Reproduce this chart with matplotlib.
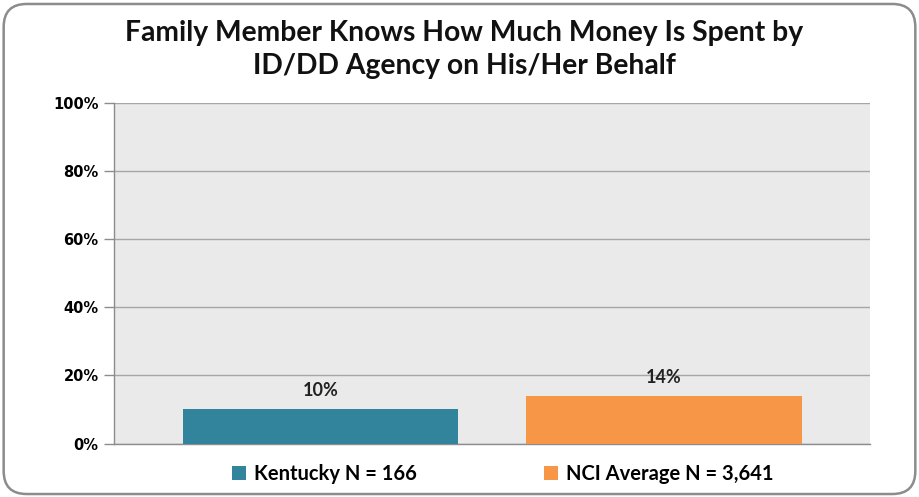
import matplotlib.pyplot as plt
from matplotlib.patches import FancyBboxPatch, Patch

# survey results
series = ["Kentucky N = 166", "NCI Average N = 3,641"]
values = [10, 14]
colors = ["#31849B", "#F79646"]
yticks = [0, 20, 40, 60, 80, 100]

fig = plt.figure(figsize=(9.19, 4.97), dpi=100)

# rounded chart border
border = FancyBboxPatch((0.004, 0.006), 0.992, 0.986, boxstyle="round,pad=0,rounding_size=0.025",
                        transform=fig.transFigure, facecolor="none", edgecolor="#8C8C8C",
                        linewidth=1.8, mutation_aspect=919 / 497, zorder=5)
fig.patches.append(border)

ax = fig.add_axes([0.124, 0.1076, 0.8227, 0.6852])
ax.set_facecolor("#EAEAEA")

xpos = [0.273, 0.7275]
bars = ax.bar(xpos, values, width=0.364, color=colors, zorder=3)
ax.set_xlim(0, 1)
ax.set_ylim(0, 100)

for x, v in zip(xpos, values):
    ax.text(x, v + 3, f"{v}%", ha="center", va="bottom", fontsize=13,
            fontweight="bold", family="Lato", color="#222222")

ax.set_yticks(yticks)
ax.set_yticklabels([f"{t}%" for t in yticks], fontsize=10.5, fontweight="bold",
                   family="DejaVu Sans", color="#000000")
ax.set_xticks([])
ax.tick_params(axis="y", length=7, width=1, color="#8C8C8C", pad=4)
ax.grid(axis="y", color="#A6A6A6", linewidth=1, zorder=0)
for side in ["top", "right"]:
    ax.spines[side].set_visible(False)
for side in ["left", "bottom"]:
    ax.spines[side].set_color("#8C8C8C")
    ax.spines[side].set_linewidth(1)

fig.text(0.505, 0.9, "Family Member Knows How Much Money Is Spent by\nID/DD Agency on His/Her Behalf",
         ha="center", va="center", fontsize=20.3, fontweight="bold", family="Lato",
         linespacing=1.32, color="#111111")

handles = [Patch(facecolor=c, edgecolor="none") for c in colors]
leg = fig.legend(handles, series, loc="center", bbox_to_anchor=(0.547, 0.046), ncol=2,
                 frameon=False, handlelength=0.7, handleheight=0.7, handletextpad=0.4,
                 columnspacing=6.3, prop={"family": "Lato", "weight": "bold", "size": 14.5})

fig.savefig("out.png", dpi=100)
